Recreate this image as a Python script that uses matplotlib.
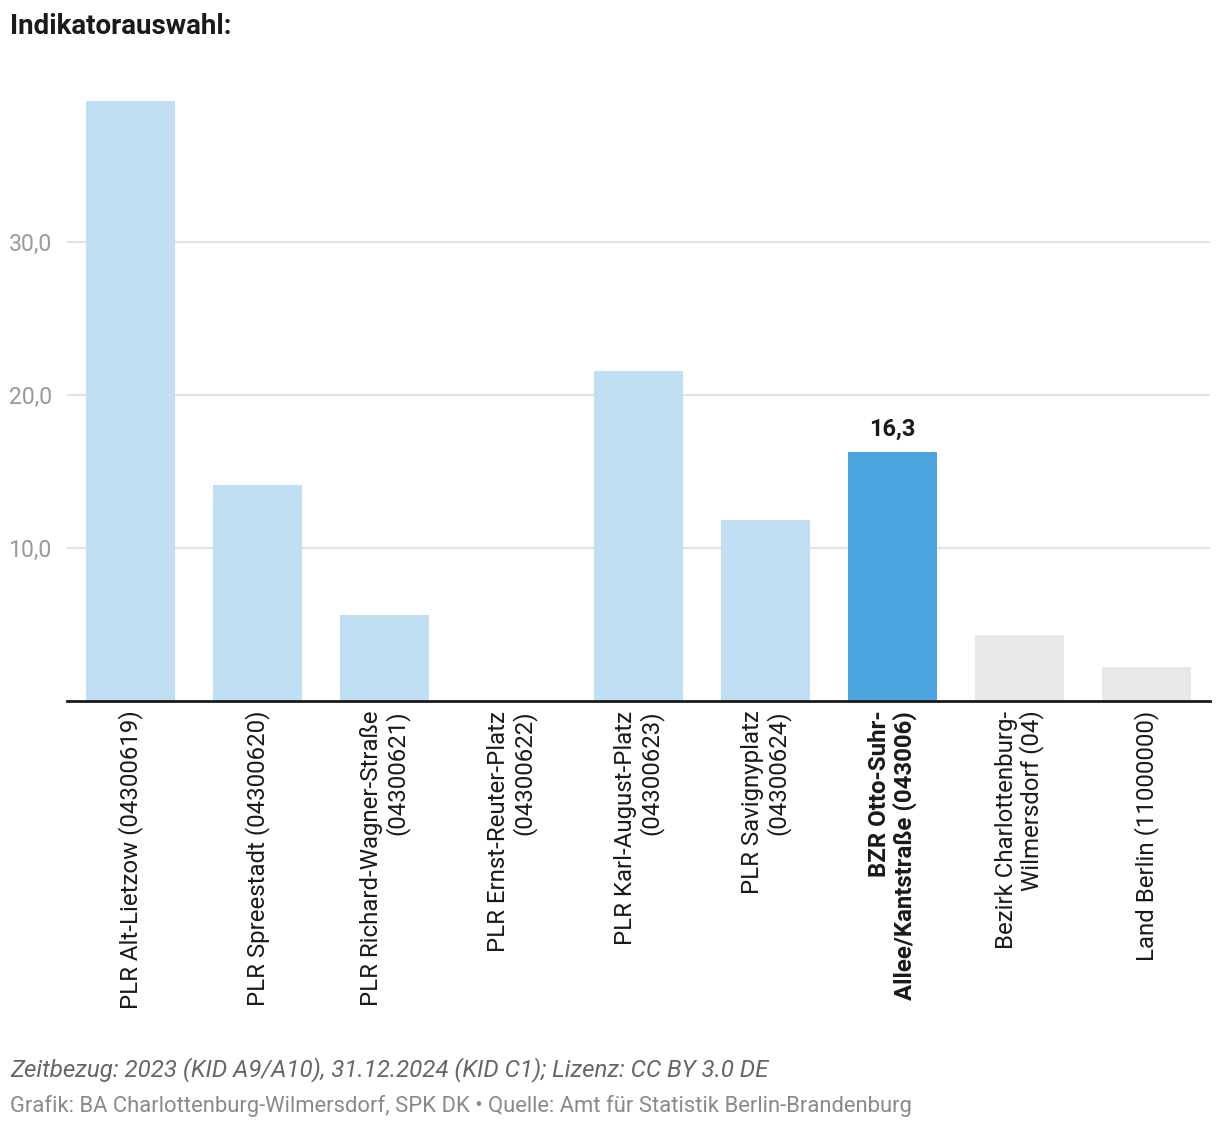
import matplotlib
matplotlib.use("Agg")
import matplotlib.pyplot as plt

categories = [
    "PLR Alt-Lietzow (04300619)",
    "PLR Spreestadt (04300620)",
    "PLR Richard-Wagner-Straße\n(04300621)",
    "PLR Ernst-Reuter-Platz\n(04300622)",
    "PLR Karl-August-Platz\n(04300623)",
    "PLR Savignyplatz\n(04300624)",
    "BZR Otto-Suhr-\nAllee/Kantstraße (043006)",
    "Bezirk Charlottenburg-\nWilmersdorf (04)",
    "Land Berlin (11000000)",
]
values = [39.2, 14.1, 5.6, 0.0, 21.6, 11.8, 16.3, 4.3, 2.2]
kinds = ["plr", "plr", "plr", "plr", "plr", "plr", "bzr", "ref", "ref"]
highlight_label = "16,3"
yticks = [10, 20, 30]
yticklabels = ["10,0", "20,0", "30,0"]

colors = {"plr": "#c1dff2", "bzr": "#4ca5de", "ref": "#e8e8e8"}

plt.rcParams["font.family"] = ["Roboto", "DejaVu Sans"]

W, H = 1220, 1130
fig = plt.figure(figsize=(W / 100, H / 100), dpi=100)
left, right, top, bottom = 67, 1210, 80, 701
ax = fig.add_axes([left / W, 1 - bottom / H, (right - left) / W, (bottom - top) / H])

x = list(range(len(values)))
ax.bar(x, values, width=0.7, color=[colors[k] for k in kinds], zorder=2)
ax.set_xlim(-0.5, len(values) - 0.5)
ax.set_ylim(0, (bottom - top) / 15.3)

ax.set_yticks(yticks)
ax.set_yticklabels(yticklabels, color="#9a9a9a", fontsize=16.6)
ax.yaxis.grid(True, color="#e3e3e3", linewidth=1.5, zorder=0)
ax.tick_params(axis="y", length=0, pad=11)
ax.tick_params(axis="x", length=0, pad=7)
for s in ["left", "right", "top"]:
    ax.spines[s].set_visible(False)
ax.spines["bottom"].set_color("#1a1a1a")
ax.spines["bottom"].set_linewidth(2)
ax.spines["bottom"].set_zorder(3)

ax.set_xticks(x)
ax.set_xticklabels(categories, rotation=90, fontsize=17.3, color="#1a1a1a",
                   ha="center", va="top", multialignment="right", linespacing=1.05)
for lbl, k in zip(ax.get_xticklabels(), kinds):
    if k == "bzr":
        lbl.set_fontweight("bold")

idx = kinds.index("bzr")
ax.annotate(highlight_label, (idx, values[idx]), xytext=(0, 8), textcoords="offset points",
            ha="center", va="bottom", fontsize=17, fontweight="bold", color="#1a1a1a")

fig.text(10 / W, 1 - 27 / H, "Indikatorauswahl:", fontsize=20, fontweight="bold",
         color="#1a1a1a", ha="left", va="center")
fig.text(10 / W, 1 - 1070 / H,
         "Zeitbezug: 2023 (KID A9/A10), 31.12.2024 (KID C1); Lizenz: CC BY 3.0 DE",
         fontsize=17.4, style="italic", color="#666666", ha="left", va="center")
fig.text(10 / W, 1 - 1106 / H,
         "Grafik: BA Charlottenburg-Wilmersdorf, SPK DK • Quelle: Amt für Statistik Berlin-Brandenburg",
         fontsize=15.85, color="#8a8a8a", ha="left", va="center")

fig.savefig("out.png", dpi=100, facecolor="white")
